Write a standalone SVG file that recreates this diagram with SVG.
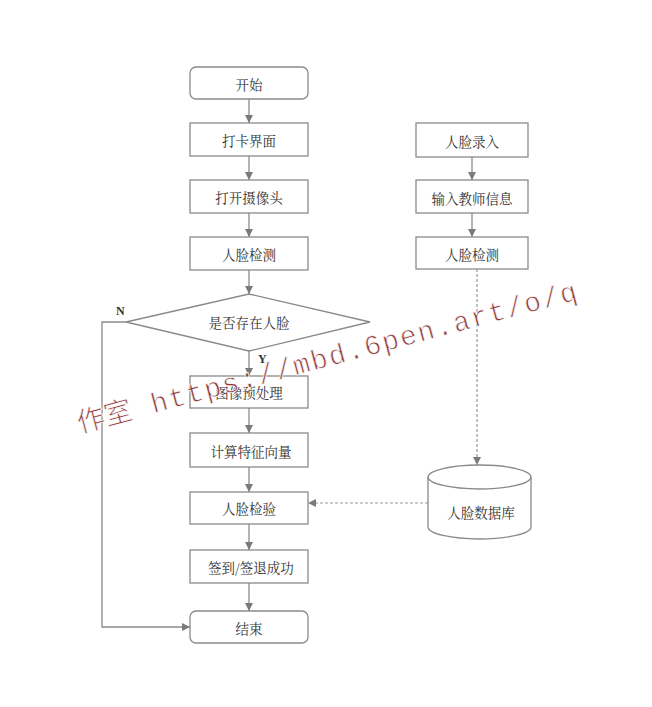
<svg xmlns="http://www.w3.org/2000/svg" width="652" height="707" viewBox="0 0 652 707">
<style>
.box{fill:#fff;stroke:#8a8a8a;stroke-width:1.3}
.t{font-family:"Noto Serif CJK SC","Noto Sans CJK SC",serif;font-size:13.5px;fill:#333;text-anchor:middle;dominant-baseline:central}
.lbl{font-family:"Liberation Serif",serif;font-size:12px;font-weight:bold;fill:#333}
.ln{fill:none;stroke:#8a8a8a;stroke-width:1.3}
.dash{fill:none;stroke:#9a9a9a;stroke-width:1.2;stroke-dasharray:3 2}
.wm{font-family:"Liberation Mono","Noto Sans CJK SC",monospace;font-size:28px;fill:#8e3b3b;stroke:#fff;stroke-width:0.9;stroke-opacity:0.9}
</style>
<defs>
<marker id="ah" viewBox="0 0 10 10" refX="10" refY="5" markerWidth="9" markerHeight="8" markerUnits="userSpaceOnUse" orient="auto">
<path d="M0,0 L10,5 L0,10 Z" fill="#7a7a7a"/>
</marker>
</defs>
<rect width="652" height="707" fill="#fff"/>
<g id="connectors">
<line class="ln" x1="249" y1="99" x2="249" y2="123" marker-end="url(#ah)"/>
<line class="ln" x1="249" y1="156" x2="249" y2="180" marker-end="url(#ah)"/>
<line class="ln" x1="249" y1="213" x2="249" y2="237" marker-end="url(#ah)"/>
<line class="ln" x1="249" y1="270" x2="249" y2="294" marker-end="url(#ah)"/>
<line class="ln" x1="249" y1="351" x2="249" y2="376" marker-end="url(#ah)"/>
<line class="ln" x1="249" y1="408" x2="249" y2="433" marker-end="url(#ah)"/>
<line class="ln" x1="249" y1="467" x2="249" y2="492" marker-end="url(#ah)"/>
<line class="ln" x1="249" y1="524" x2="249" y2="550" marker-end="url(#ah)"/>
<line class="ln" x1="249" y1="583" x2="249" y2="611" marker-end="url(#ah)"/>
<polyline class="ln" points="126,322 102,322 102,627 190,627" marker-end="url(#ah)"/>
<line class="ln" x1="472" y1="157" x2="472" y2="180" marker-end="url(#ah)"/>
<line class="ln" x1="472" y1="213" x2="472" y2="237" marker-end="url(#ah)"/>
<line class="dash" x1="477" y1="269" x2="477" y2="465" marker-end="url(#ah)"/>
<line class="dash" x1="428" y1="503" x2="308" y2="503" marker-end="url(#ah)"/>
<text class="lbl" x="116" y="315">N</text>
<text class="lbl" x="258" y="363">Y</text>
</g>
<g id="start"><rect class="box" x="190" y="67" width="118" height="32" rx="6"/><text class="t" x="249" y="84">开始</text></g>
<g id="punch"><rect class="box" x="190" y="123" width="118" height="33"/><text class="t" x="249" y="140">打卡界面</text></g>
<g id="camera"><rect class="box" x="190" y="180" width="118" height="33"/><text class="t" x="249" y="197">打开摄像头</text></g>
<g id="detect1"><rect class="box" x="190" y="237" width="118" height="33"/><text class="t" x="249" y="254">人脸检测</text></g>
<g id="decision"><polygon class="box" points="249,294 370,322 249,351 126,322"/><text class="t" x="249" y="322">是否存在人脸</text></g>
<g id="preprocess"><rect class="box" x="190" y="376" width="118" height="32"/><text class="t" x="249" y="392">图像预处理</text></g>
<g id="feature"><rect class="box" x="190" y="433" width="118" height="34"/><text class="t" x="251" y="451">计算特征向量</text></g>
<g id="verify"><rect class="box" x="190" y="492" width="118" height="32"/><text class="t" x="249" y="508">人脸检验</text></g>
<g id="success"><rect class="box" x="190" y="550" width="118" height="33"/><text class="t" x="251" y="567">签到/签退成功</text></g>
<g id="end"><rect class="box" x="190" y="611" width="118" height="32" rx="6"/><text class="t" x="249" y="628">结束</text></g>
<g id="enroll"><rect class="box" x="416" y="123" width="112" height="34"/><text class="t" x="472" y="141">人脸录入</text></g>
<g id="teacher"><rect class="box" x="416" y="180" width="112" height="33"/><text class="t" x="472" y="198">输入教师信息</text></g>
<g id="detect2"><rect class="box" x="416" y="237" width="112" height="32"/><text class="t" x="472" y="254">人脸检测</text></g>
<g id="database">
<path class="box" d="M428,477 L428,527 A51.5,12 0 0 0 531,527 L531,477"/>
<ellipse class="box" cx="479.5" cy="477" rx="51.5" ry="12"/>
<text class="t" x="481" y="512">人脸数据库</text>
</g>
<g id="watermark" transform="translate(80,433) rotate(-15)">
<text class="wm" x="0" y="0">作室</text>
<text class="wm" x="76" y="0" textLength="440" lengthAdjust="spacing">https://mbd.6pen.art/o/q</text>
</g>
</svg>
